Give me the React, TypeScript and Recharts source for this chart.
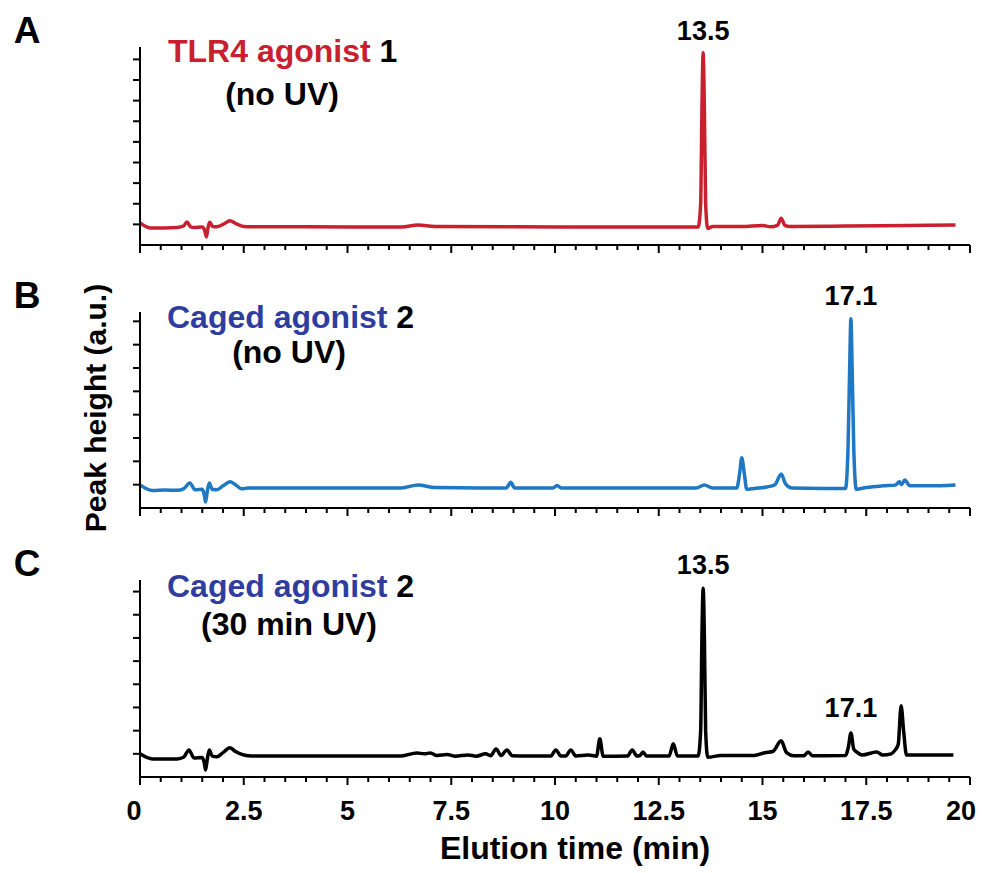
import { LineChart, Line, XAxis, YAxis, ReferenceDot } from "recharts";

const FONT = '"Liberation Sans", Arial, sans-serif';

// x axis: major ticks are labelled, minor every 0.5 min
const xMajorTicks = [0, 2.5, 5, 7.5, 10, 12.5, 15, 17.5, 20];
const xAllTicks = [
  0, 0.5, 1, 1.5, 2, 2.5, 3, 3.5, 4, 4.5, 5, 5.5, 6, 6.5, 7, 7.5, 8, 8.5, 9, 9.5, 10,
  10.5, 11, 11.5, 12, 12.5, 13, 13.5, 14, 14.5, 15, 15.5, 16, 16.5, 17, 17.5, 18, 18.5,
  19, 19.5, 20,
];
const yTicksA = [1, 2, 3, 4, 5, 6, 7, 8, 9];
const yTicksB = [1, 2, 3, 4, 5, 6, 7, 8];
const yTicksC = [1, 2, 3, 4, 5, 6, 7, 8];

// [elution time (min), peak height (a.u.)]
const traceA: [number, number][] = [
  [0, 1.07], [0.25, 0.83], [0.6, 0.83], [0.9, 0.85], [1.05, 0.92], [1.13, 1.12], [1.22, 0.88],
  [1.3, 0.85], [1.5, 0.87], [1.56, 0.7], [1.6, 0.39], [1.64, 0.85], [1.68, 1.1], [1.75, 0.9],
  [1.85, 0.88], [2.0, 1.0], [2.17, 1.17], [2.3, 1.05], [2.5, 0.9], [2.7, 0.88], [4, 0.88],
  [6.3, 0.87], [6.7, 0.97], [7.1, 0.9], [9, 0.88], [11, 0.87], [13, 0.87], [13.45, 0.87],
  [13.51, 2.0], [13.54, 6.5], [13.57, 9.32], [13.6, 6.5], [13.63, 2.0], [13.68, 0.8],
  [13.8, 0.9], [14.5, 0.9], [15.0, 0.95], [15.2, 0.88], [15.36, 0.95], [15.45, 1.3],
  [15.54, 0.95], [15.65, 0.9], [17, 0.92], [18.5, 0.95], [19.65, 0.97],
];

const traceB: [number, number][] = [
  [0, 0.99], [0.3, 0.75], [0.6, 0.77], [0.9, 0.76], [1.05, 0.82], [1.2, 1.07], [1.33, 0.78],
  [1.5, 0.8], [1.55, 0.55], [1.58, 0.26], [1.62, 0.7], [1.67, 1.07], [1.74, 0.8], [1.85, 0.78],
  [2.0, 0.95], [2.17, 1.12], [2.3, 1.0], [2.45, 0.82], [2.6, 0.86], [4, 0.86], [6.3, 0.86],
  [6.7, 0.99], [7.1, 0.88], [8.5, 0.86], [8.83, 0.86], [8.93, 1.1], [9.03, 0.86], [9.95, 0.86],
  [10.05, 0.96], [10.15, 0.86], [13.4, 0.86], [13.6, 0.99], [13.8, 0.86], [14.38, 0.86],
  [14.45, 1.5], [14.5, 2.15], [14.56, 1.5], [14.62, 0.8], [14.8, 0.84], [15.1, 0.9],
  [15.3, 1.0], [15.45, 1.46], [15.55, 1.05], [15.7, 0.86], [16.5, 0.84], [17.0, 0.84],
  [17.06, 2.5], [17.1, 6.0], [17.13, 8.11], [17.16, 6.0], [17.2, 2.5], [17.26, 0.8],
  [17.5, 0.88], [17.9, 0.95], [18.2, 0.98], [18.3, 1.12], [18.35, 1.0], [18.43, 1.2],
  [18.55, 0.95], [19.0, 0.95], [19.65, 0.99],
];

const traceC: [number, number][] = [
  [0, 1.0], [0.3, 0.78], [0.9, 0.78], [1.05, 0.85], [1.18, 1.17], [1.3, 0.82], [1.5, 0.84],
  [1.55, 0.6], [1.58, 0.3], [1.62, 0.75], [1.67, 1.17], [1.74, 0.9], [1.85, 0.87], [2.0, 1.05],
  [2.17, 1.26], [2.3, 1.1], [2.5, 0.95], [2.7, 0.91], [6.3, 0.91], [6.67, 1.04], [6.85, 1.0],
  [7.0, 1.04], [7.15, 0.93], [7.4, 0.97], [7.6, 0.9], [7.9, 0.95], [8.1, 0.9], [8.33, 1.0],
  [8.45, 0.92], [8.58, 1.21], [8.7, 0.93], [8.84, 1.17], [8.97, 0.92], [9.3, 0.91],
  [9.9, 0.91], [10.02, 1.17], [10.14, 0.91], [10.26, 0.91], [10.38, 1.17], [10.5, 0.91],
  [10.8, 0.95], [11.0, 0.9], [11.08, 1.65], [11.16, 0.9], [11.75, 0.91], [11.86, 1.17],
  [11.97, 0.91], [12.05, 0.93], [12.12, 1.08], [12.2, 0.91], [12.75, 0.91], [12.85, 1.43],
  [12.95, 0.91], [13.45, 0.91], [13.51, 2.0], [13.54, 6.0], [13.57, 8.14], [13.6, 6.0],
  [13.63, 2.0], [13.68, 0.85], [14.0, 0.93], [14.8, 0.93], [15.06, 1.05], [15.25, 1.1],
  [15.45, 1.56], [15.58, 1.05], [15.75, 0.92], [16.0, 0.92], [16.1, 1.08], [16.2, 0.92],
  [17.0, 0.93], [17.07, 1.3], [17.13, 1.9], [17.2, 1.2], [17.27, 1.08], [17.4, 0.95],
  [17.75, 1.08], [17.9, 0.95], [18.1, 1.0], [18.2, 1.17], [18.27, 1.4], [18.34, 3.07],
  [18.4, 2.0], [18.47, 0.95], [18.7, 0.95], [19.6, 0.95],
];

const toRows = (pts: [number, number][]) => pts.map(([t, v]) => ({ t, v }));

// end labels sit a little inside the axis, as in the original
const labelShift: Record<number, number> = { 0: -6, 20: -9 };

function TimeTick(props: any) {
  const { x, y, payload, showLabel } = props;
  const major = xMajorTicks.includes(payload.value);
  return (
    <g>
      <line x1={x} x2={x} y1={y} y2={y + (major ? 8 : 5)} stroke="#000" strokeWidth={2} />
      {showLabel && major && (
        <text
          x={x + (labelShift[payload.value] || 0)}
          y={y + 43}
          textAnchor="middle"
          fontSize={27}
          fontWeight="bold"
          fill="#000"
          fontFamily={FONT}
        >
          {payload.value}
        </text>
      )}
    </g>
  );
}

interface PeakLabel {
  t: number;
  v: number;
  text: string;
  offset: number;
}

interface PanelProps {
  top: number;
  height: number;
  bottom: number;
  xAxisHeight: number;
  data: { t: number; v: number }[];
  color: string;
  yMax: number;
  yTicks: number[];
  peaks: PeakLabel[];
  showLabels: boolean;
}

function Panel({ top, height, bottom, xAxisHeight, data, color, yMax, yTicks, peaks, showLabels }: PanelProps) {
  return (
    <div style={{ position: "absolute", left: 0, top, width: 982, height }}>
      <LineChart width={982} height={height} data={data} margin={{ top: 47, right: 12, bottom, left: 120 }}>
        <XAxis
          dataKey="t"
          type="number"
          domain={[0, 20]}
          ticks={xAllTicks}
          interval={0}
          tickSize={0}
          tickMargin={0}
          height={xAxisHeight}
          tickLine={false}
          axisLine={{ stroke: "#000", strokeWidth: 2 }}
          tick={(p: any) => <TimeTick {...p} showLabel={showLabels} />}
        />
        <YAxis
          type="number"
          domain={[0, yMax]}
          ticks={yTicks}
          interval={0}
          width={20}
          tickSize={7}
          tickFormatter={() => ""}
          tickLine={{ stroke: "#000", strokeWidth: 2 }}
          axisLine={{ stroke: "#000", strokeWidth: 2 }}
        />
        <Line
          type="monotone"
          dataKey="v"
          stroke={color}
          strokeWidth={3.5}
          strokeLinejoin="round"
          dot={false}
          isAnimationActive={false}
        />
        {peaks.map((p) => (
          <ReferenceDot
            key={p.text + p.t}
            x={p.t}
            y={p.v}
            r={0}
            fill="none"
            stroke="none"
            label={{
              value: p.text,
              position: "top",
              offset: p.offset,
              fontSize: 27,
              fontWeight: 700,
              fill: "#000",
              fontFamily: FONT,
            }}
          />
        ))}
      </LineChart>
    </div>
  );
}

const RED = "#C8202F";
const BLUE_LINE = "#1E78C4";
const BLUE_TEXT = "#2F3E9E";

export default function App() {
  return (
    <div style={{ position: "absolute", left: 0, top: 0, width: 982, height: 873, background: "#fff", fontFamily: FONT }}>
      <Panel
        top={0}
        height={280}
        bottom={5}
        xAxisHeight={30}
        data={toRows(traceA)}
        color={RED}
        yMax={9.6}
        yTicks={yTicksA}
        peaks={[{ t: 13.57, v: 9.32, text: "13.5", offset: 13 }]}
        showLabels={false}
      />
      <Panel
        top={265}
        height={280}
        bottom={7}
        xAxisHeight={30}
        data={toRows(traceB)}
        color={BLUE_LINE}
        yMax={8.4}
        yTicks={yTicksB}
        peaks={[{ t: 17.13, v: 8.11, text: "17.1", offset: 14 }]}
        showLabels={false}
      />
      <Panel
        top={533}
        height={340}
        bottom={6}
        xAxisHeight={90}
        data={toRows(traceC)}
        color="#000"
        yMax={8.5}
        yTicks={yTicksC}
        peaks={[
          { t: 13.57, v: 8.14, text: "13.5", offset: 14 },
          { t: 17.13, v: 1.9, text: "17.1", offset: 16 },
        ]}
        showLabels={true}
      />
      <svg width={982} height={873} style={{ position: "absolute", left: 0, top: 0, pointerEvents: "none" }}>
        <g fontFamily={FONT} fontWeight="bold">
          <text x={27} y={43} textAnchor="middle" fontSize={37} fill="#000">A</text>
          <text x={27} y={308} textAnchor="middle" fontSize={37} fill="#000">B</text>
          <text x={27} y={576} textAnchor="middle" fontSize={37} fill="#000">C</text>

          <text x={168} y={62} fontSize={32} fill={RED}>
            TLR4 agonist <tspan fill="#000">1</tspan>
          </text>
          <text x={282} y={105} textAnchor="middle" fontSize={32} fill="#000">(no UV)</text>

          <text x={167} y={328} fontSize={32} fill={BLUE_TEXT}>
            Caged agonist <tspan fill="#000">2</tspan>
          </text>
          <text x={289} y={363} textAnchor="middle" fontSize={32} fill="#000">(no UV)</text>

          <text x={167} y={597} fontSize={32} fill={BLUE_TEXT}>
            Caged agonist <tspan fill="#000">2</tspan>
          </text>
          <text x={289} y={635} textAnchor="middle" fontSize={32} fill="#000">(30 min UV)</text>

          <text x={575} y={859} textAnchor="middle" fontSize={32} fill="#000">Elution time (min)</text>
          <text transform="translate(106,408) rotate(-90)" textAnchor="middle" fontSize={30} fill="#000">
            Peak height (a.u.)
          </text>
        </g>
      </svg>
    </div>
  );
}
